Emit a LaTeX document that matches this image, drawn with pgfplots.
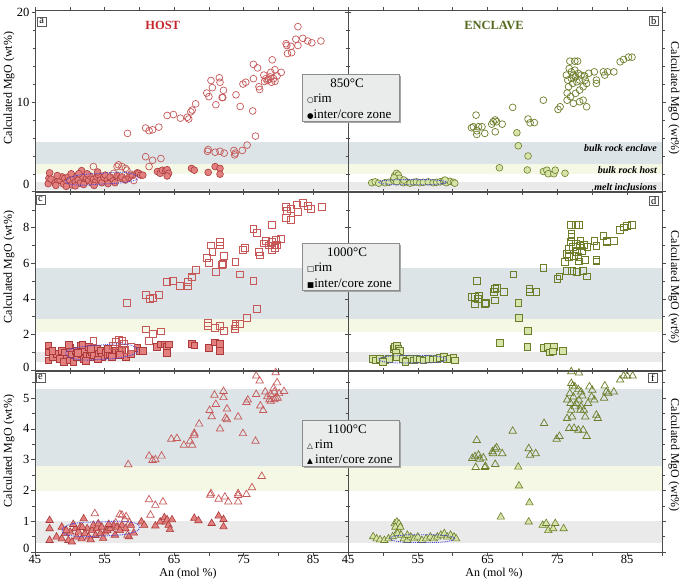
\documentclass[border=0pt]{standalone}
\usepackage{fontspec}
\setmainfont{Liberation Serif}
\newfontfamily\symfont{DejaVu Sans}
\usepackage{pgfplots}
\pgfplotsset{compat=1.18}

\definecolor{hostrim}{RGB}{198,88,88}
\definecolor{hostfill}{RGB}{226,128,128}
\definecolor{hostedge}{RGB}{172,58,58}
\definecolor{encrim}{RGB}{108,126,42}
\definecolor{encfill}{RGB}{214,228,168}
\definecolor{encedge}{RGB}{108,126,45}
\definecolor{bandblue}{RGB}{220,228,231}
\definecolor{bandyel}{RGB}{244,248,228}
\definecolor{bandgray}{RGB}{234,234,234}
\definecolor{legfill}{RGB}{234,235,235}
\definecolor{hosttxt}{RGB}{195,38,45}
\definecolor{enctxt}{RGB}{85,105,30}
\definecolor{ellcol}{RGB}{70,70,225}

\newcommand{\tickfont}{\fontsize{12.5}{14}\selectfont}
\newcommand{\labfont}{\fontsize{12}{14}\selectfont}
\newcommand{\legfont}{\fontsize{13}{15}\selectfont}

\tikzset{ell/.style={draw=ellcol, densely dotted, line width=0.9pt}}
\pgfplotsset{
  panel/.style={
    scale only axis, xmin=45, xmax=90,
    axis on top, clip mode=individual,
    tick align=outside, major tick length=3.5pt, minor tick length=2.5pt,
    xtick={45,50,...,90},
    xtick pos=both, ytick pos=both,
    axis line style={draw=black!70, line width=0.6pt},
    tick style={black!70, line width=0.5pt},
    ticklabel style={font=\tickfont, text=black},
    yticklabel style={inner sep=2pt},
    xticklabel style={inner sep=0.5pt, yshift=1pt},
  },
  hfill/.style={only marks, forget plot, mark=#1, mark size=3.4pt, mark options={fill=hostfill, draw=hostedge, line width=0.6pt}},
  hrim/.style={only marks, forget plot, mark=#1, mark size=3.4pt, mark options={draw=hostrim, line width=0.7pt}},
  efill/.style={only marks, forget plot, mark=#1, mark size=3.4pt, mark options={fill=encfill, draw=encedge, line width=0.6pt}},
  erim/.style={only marks, forget plot, mark=#1, mark size=3.4pt, mark options={draw=encrim, line width=0.7pt}},
  tri/.style={mark size=4.3pt},
  band/.style={draw=none, fill=#1, forget plot},
}

\begin{document}
\begin{tikzpicture}

%% ---------------- panel a (HOST 850) ----------------
\begin{axis}[panel, at={(35pt,-10.5pt)}, anchor=north west, width=313pt, height=181.2pt,
  ymin=0, ymax=20.2, ytick={0,10,20}, yticklabels={\raisebox{14pt}{0},10,20},
  minor ytick={2,4,6,8,12,14,16,18}, xticklabels={}]
\addplot[band=bandgray] coordinates {(45,0.2) (90,0.2) (90,1.05) (45,1.05)};
\addplot[band=bandyel] coordinates {(45,2.0) (90,2.0) (90,3.1) (45,3.1)};
\addplot[band=bandblue] coordinates {(45,3.1) (90,3.1) (90,5.55) (45,5.55)};
\addplot[hfill=*] coordinates {
(46.9,0.9)(47.0,1.5)(47.1,2.1)(47.3,1.4)(47.9,1.0)(48.3,1.2)(48.6,1.3)(48.9,1.65)(49.1,0.85)(49.3,1.5)
(49.6,1.1)(49.8,1.65)(50.0,1.3)(50.3,0.75)(50.5,1.5)(50.8,1.1)(51.0,1.75)(51.2,1.3)(51.5,0.95)(51.7,2.35)
(51.9,1.6)(52.2,1.1)(52.4,1.5)(52.7,1.3)(52.9,1.75)(53.2,0.95)(53.4,1.4)(53.7,1.1)(53.9,1.65)(54.1,1.9)
(54.4,1.3)(54.6,1.0)(54.9,1.6)(55.1,1.85)(55.4,1.3)(55.8,1.65)(56.2,1.2)(56.8,1.8)(57.3,1.5)(57.5,1.65)
(58.0,1.3)(58.5,1.6)(59.0,1.8)(59.7,2.1)(59.9,2.05)(60.2,1.85)(60.5,1.85)(62.6,2.25)(63.0,2.05)(63.3,2.4)
(63.8,2.35)(64.0,2.45)(64.2,2.05)(64.0,1.75)(67.5,2.6)(67.9,2.4)(69.9,2.15)(70.9,2.8)(71.6,2.6)(71.6,1.95)
(48.0,0.7)(49.5,0.6)(50.8,0.65)(52.0,0.8)(53.5,0.7)(55.5,0.9)(56.5,1.0)(51.3,2.0)(52.5,2.0)(54.0,2.2)
(50.2,2.0)(48.2,1.8)};
\addplot[hrim=o] coordinates {
(53.4,2.8)(56.8,2.8)(57.0,3.0)(57.5,2.8)(58.0,2.6)(58.2,2.4)(59.2,1.25)(56.3,2.05)(58.0,1.4)(58.8,1.95)
(58.3,6.5)(60.9,7.1)(61.4,6.8)(61.9,6.9)(62.8,7.2)(64.0,8.5)(64.9,8.6)(65.9,8.2)(66.9,8.3)(67.1,8.1)
(67.4,8.9)(67.6,9.1)(68.1,9.8)(69.7,11.0)(70.0,10.6)(70.3,12.4)(70.5,11.6)(71.0,9.7)(71.5,12.7)(71.6,12.2)
(71.9,10.5)(72.0,10.5)(72.1,11.3)(73.9,10.8)(74.5,9.5)(74.9,12.0)(75.3,12.2)(76.4,14.2)(76.4,12.6)(76.3,9.0)
(77.0,13.8)(77.2,11.7)(77.3,11.4)(77.9,13.0)(78.2,12.6)(78.4,12.4)(78.6,12.5)(79.1,14.7)(78.9,13.3)(79.3,12.6)
(79.5,12.3)(79.5,13.6)(79.0,12.2)(79.8,12.9)(80.4,13.3)(78.8,12.8)(78.0,12.3)
(81.1,16.5)(81.2,16.3)(81.8,16.2)(81.3,15.4)(81.9,15.5)(82.5,17.0)(82.8,18.4)(82.8,16.3)(83.5,17.1)(84.2,16.8)
(84.8,16.6)(86.1,16.8)
(76.7,6.2)(75.5,5.2)(74.8,4.6)(73.6,4.6)(73.8,4.3)(73.7,4.1)(72.2,4.3)(71.6,4.5)(70.9,4.4)(69.8,4.5)
(69.9,4.7)(63.1,3.7)(61.9,3.5)(60.9,3.9)(61.4,2.8)};
\draw[ell] plot[smooth cycle, tension=0.8] coordinates {(49.4,1.15)(51,1.8)(54.5,2.05)(58,2.15)(59.8,1.55)(58,1.05)(54.5,0.85)(51,0.75)};
\end{axis}

%% ---------------- panel b (ENCLAVE 850) ----------------
\begin{axis}[panel, at={(348pt,-10.5pt)}, anchor=north west, width=314pt, height=181.2pt,
  ymin=0, ymax=20.2, ytick={0,10,20}, yticklabels={}, xticklabels={},
  minor ytick={2,4,6,8,12,14,16,18}]
\addplot[band=bandgray] coordinates {(45,0.2) (90,0.2) (90,1.05) (45,1.05)};
\addplot[band=bandyel] coordinates {(45,2.0) (90,2.0) (90,3.1) (45,3.1)};
\addplot[band=bandblue] coordinates {(45,3.1) (90,3.1) (90,5.55) (45,5.55)};
\addplot[efill=*] coordinates {
(48.4,1.0)(48.9,1.1)(49.4,0.95)(50.3,1.0)(50.9,1.05)(51.5,1.3)(51.7,1.8)(51.95,2.05)(52.2,1.85)(52.4,1.5)
(51.6,1.55)(52.0,1.1)(52.9,1.0)(53.4,1.1)(53.9,0.95)(54.4,1.05)(54.8,1.1)(55.3,1.0)(55.8,1.05)(56.5,1.1)
(57.2,1.0)(57.7,1.05)(58.2,1.1)(58.7,1.2)(59.1,1.0)(59.6,1.15)(60.1,1.05)(60.3,0.95)(53.0,1.3)(58.9,1.3)
(66.7,2.67)(69.2,6.57)(69.4,5.12)(70.8,3.98)(70.7,2.42)(73.0,2.25)(73.5,2.4)(73.7,2.0)(74.5,2.0)(74.7,2.4)
(76.1,2.05)};
\addplot[erim=o] coordinates {
(63.35,8.54)(62.7,7.13)(62.97,7.24)(63.45,6.79)(63.7,7.24)(64.2,7.24)(63.45,6.38)(64.6,6.5)(65.6,7.53)(65.8,7.8)
(66.1,8.0)(66.3,7.8)(66.1,6.68)(67.1,7.53)(68.6,9.4)(70.8,8.1)(71.1,7.68)(71.7,7.7)(73.0,10.2)(75.1,9.17)
(75.4,9.47)(76.8,14.55)(77.5,14.55)(77.9,14.55)
(76.3,13.0)(76.5,12.44)(76.6,11.7)(76.7,13.74)(77.0,13.36)(77.0,12.63)(77.2,12.07)(77.3,13.0)(77.5,13.55)(77.6,12.81)
(77.8,12.25)(78.0,13.18)(78.2,12.44)(78.2,11.33)(78.4,13.0)(76.4,11.0)(76.9,10.59)(77.6,10.96)(78.7,11.7)(79.0,12.44)
(79.2,12.07)(76.4,10.2)(77.3,9.85)(78.2,10.03)(78.7,10.2)(79.2,9.47)(80.3,13.36)(80.6,12.44)(80.6,12.07)(81.6,13.36)
(81.8,13.0)(82.2,13.36)(83.1,13.36)(84.0,14.48)(84.5,14.74)(85.2,15.0)(85.7,15.0)(79.5,13.2)(78.9,12.9)};
\draw[ell] plot[smooth cycle, tension=0.8] coordinates {(49.4,1.05)(51,1.3)(54.3,1.35)(57.5,1.3)(59.1,1.05)(57.5,0.82)(54.3,0.78)(51,0.82)};
\end{axis}

%% ---------------- panel c (HOST 1000) ----------------
\begin{axis}[panel, at={(35pt,-192pt)}, anchor=north west, width=313pt, height=178pt,
  ymin=0, ymax=10, ytick={0,2,4,6,8}, yticklabels={\raisebox{5.5pt}{0},2,4,6,8},
  minor ytick={1,3,5,7,9}, xticklabels={}]
\addplot[band=bandgray] coordinates {(45,0.45) (90,0.45) (90,1.0) (45,1.0)};
\addplot[band=bandyel] coordinates {(45,2.15) (90,2.15) (90,2.87) (45,2.87)};
\addplot[band=bandblue] coordinates {(45,2.87) (90,2.87) (90,5.72) (45,5.72)};
\addplot[hfill=square*] coordinates {
(46.9,1.39)(46.9,1.0)(46.9,0.55)(47.6,0.73)(48.1,0.92)(48.6,0.64)(48.9,1.1)(49.1,0.45)(49.6,0.83)(49.8,1.2)
(50.05,0.55)(50.3,0.92)(50.5,0.45)(50.8,1.1)(51.0,0.73)(51.5,1.39)(51.7,0.92)(52.0,0.64)(52.2,1.1)(52.5,0.83)
(52.7,1.29)(52.9,0.73)(53.2,1.0)(53.4,0.83)(53.9,1.2)(54.1,0.92)(54.4,1.1)(54.6,0.73)(55.1,1.0)(55.4,0.83)
(55.8,0.92)(56.6,1.1)(57.0,1.0)(57.5,1.15)(58.0,0.73)(58.8,0.92)(59.7,1.25)(60.1,1.1)(60.5,1.07)(62.5,1.29)
(63.1,1.44)(63.6,1.44)(64.0,1.29)(64.2,1.44)(63.9,0.96)(67.5,1.45)(67.9,1.39)(70.0,1.26)(70.9,1.56)(71.6,1.45)
(71.6,1.1)(47.5,1.1)(49.3,1.0)(50.0,1.25)(51.2,0.95)(52.3,0.5)(53.0,1.2)(54.0,0.6)(55.5,1.2)(56.0,0.75)
(57.2,0.85)(51.8,1.4)(49.9,1.4)};
\addplot[hrim=square] coordinates {
(58.2,3.78)(60.9,4.23)(61.5,4.0)(61.9,4.05)(62.8,4.23)(64.0,4.96)(64.8,5.0)(65.8,4.73)(67.0,4.7)(67.0,4.95)
(67.5,5.2)(67.6,5.25)(68.1,5.63)(69.7,6.28)(70.0,6.02)(70.3,7.0)(70.5,6.64)(71.0,5.5)(71.6,7.2)(71.6,7.0)
(71.9,5.93)(72.0,5.95)(72.1,6.41)(73.8,6.09)(74.5,5.37)(74.9,6.75)(75.2,6.86)(76.4,7.93)(76.4,5.0)(76.9,7.69)
(77.2,6.62)(77.3,6.44)(77.9,7.12)(78.2,7.25)(79.1,8.17)(79.0,7.2)(79.4,7.0)(79.5,6.85)(79.6,7.3)(79.8,7.05)
(80.4,7.35)(79.0,6.75)(78.6,7.0)
(81.1,9.18)(81.2,8.95)(81.8,9.05)(81.1,8.55)(81.8,8.43)(82.6,9.3)(82.8,8.87)(83.5,9.37)(84.2,9.23)(84.7,9.05)
(86.2,9.18)
(76.9,3.44)(75.5,2.94)(74.5,2.6)(73.8,2.6)(73.8,2.5)(73.7,2.3)(72.2,2.22)(71.6,2.5)(70.9,2.38)(69.8,2.47)
(69.9,2.64)(63.1,2.17)(61.9,2.04)(60.9,2.28)(61.4,1.63)
(53.4,1.63)(57.0,1.72)(56.6,1.6)(57.5,1.62)(57.8,1.48)(56.2,1.35)(58.0,1.15)(58.8,1.3)};
\draw[ell] plot[smooth cycle, tension=0.8] coordinates {(49.4,0.95)(51,1.25)(54.5,1.4)(58,1.45)(59.8,1.1)(58,0.75)(54.5,0.6)(51,0.6)};
\end{axis}

%% ---------------- panel d (ENCLAVE 1000) ----------------
\begin{axis}[panel, at={(348pt,-192pt)}, anchor=north west, width=314pt, height=178pt,
  ymin=0, ymax=10, ytick={0,2,4,6,8}, yticklabels={}, xticklabels={},
  minor ytick={1,3,5,7,9}]
\addplot[band=bandgray] coordinates {(45,0.45) (90,0.45) (90,1.0) (45,1.0)};
\addplot[band=bandyel] coordinates {(45,2.15) (90,2.15) (90,2.87) (45,2.87)};
\addplot[band=bandblue] coordinates {(45,2.87) (90,2.87) (90,5.72) (45,5.72)};
\addplot[efill=square*] coordinates {
(48.6,0.64)(49.0,0.55)(49.5,0.64)(50.3,0.55)(50.9,0.64)(51.5,1.2)(51.7,1.3)(52.0,1.35)(52.2,1.2)(52.4,1.1)
(51.8,0.95)(52.0,0.75)(52.9,0.64)(53.4,0.55)(53.9,0.64)(54.4,0.55)(54.8,0.64)(55.3,0.6)(55.8,0.55)(56.5,0.64)
(57.2,0.6)(57.7,0.64)(58.2,0.7)(58.7,0.73)(59.1,0.6)(59.6,0.64)(60.1,0.7)(60.3,0.55)(50.0,0.45)(53.2,0.45)
(69.4,3.78)(69.5,2.94)(70.8,2.19)(66.8,1.54)(70.7,1.32)(73.0,1.25)(73.6,1.32)(73.9,1.0)(74.5,1.32)(74.4,1.05)
(75.8,1.1)};
\addplot[erim=square] coordinates {
(63.5,4.99)(62.7,4.09)(63.2,4.13)(63.7,4.19)(63.6,4.0)(63.2,3.69)(64.6,3.72)(64.7,3.76)(65.9,4.37)(66.1,4.56)
(66.3,4.62)(67.3,4.37)(66.1,3.91)(68.7,5.37)(71.0,4.56)(71.1,4.37)(72.0,4.37)(73.0,5.74)(75.0,5.12)(75.3,5.26)
(76.9,8.15)(77.7,8.15)(78.1,8.15)
(76.4,5.59)(77.1,5.59)(77.8,5.5)(78.7,5.59)(79.2,5.26)(76.1,6.06)(76.4,6.53)(76.6,6.81)(76.9,7.18)(77.0,7.46)
(77.2,6.9)(77.4,6.43)(77.6,7.09)(77.8,6.62)(78.0,6.34)(78.2,6.99)(78.3,7.27)(78.5,6.71)(78.1,6.1)(79.0,6.19)
(79.3,6.9)(77.0,7.65)(76.7,6.34)(78.8,7.05)
(80.3,7.27)(80.6,6.99)(80.6,6.19)(80.6,6.1)(81.6,7.55)(82.1,7.27)(83.1,7.27)(82.1,7.18)(84.0,7.89)(84.5,8.02)
(85.0,8.11)(85.7,8.15)};
\draw[ell] plot[smooth cycle, tension=0.8] coordinates {(49.4,0.6)(51,0.78)(54.3,0.8)(57.5,0.78)(59.1,0.6)(57.5,0.42)(54.3,0.4)(51,0.42)};
\end{axis}

%% ---------------- panel e (HOST 1100) ----------------
\begin{axis}[panel, at={(35pt,-371pt)}, anchor=north west, width=313pt, height=181pt,
  ymin=0, ymax=5.88, ytick={0,1,2,3,4,5}, yticklabels={\raisebox{7.5pt}{0},1,2,3,4,5},
  minor ytick={0.5,1.5,2.5,3.5,4.5,5.5}, xticklabels={45,,55,,65,,75,,85,}]
\addplot[band=bandgray] coordinates {(45,0.29) (90,0.29) (90,1.0) (45,1.0)};
\addplot[band=bandyel] coordinates {(45,1.99) (90,1.99) (90,2.79) (45,2.79)};
\addplot[band=bandblue] coordinates {(45,2.79) (90,2.79) (90,5.3) (45,5.3)};
\addplot[hfill=triangle*, tri] coordinates {
(47.1,1.03)(47.1,0.76)(47.1,0.38)(48.1,0.49)(48.85,0.81)(48.85,0.43)(49.3,0.6)(49.8,0.38)(50.05,0.65)(50.3,0.33)
(50.8,0.76)(51.0,0.49)(51.25,0.65)(51.5,0.81)(51.7,0.43)(52.0,1.08)(52.2,0.6)(52.5,0.76)(52.7,0.49)(53.2,0.7)
(53.4,0.87)(53.7,0.54)(53.9,0.76)(54.1,0.92)(54.4,0.6)(54.6,0.81)(55.1,0.65)(55.4,0.7)(55.8,0.76)(56.3,0.87)
(56.8,0.81)(57.5,0.87)(58.0,0.76)(58.8,0.87)(59.2,0.62)(58.5,0.5)(60.3,0.98)(60.7,0.87)(62.3,0.85)(63.0,0.98)
(63.6,1.12)(63.8,0.98)(64.0,1.05)(64.2,0.87)(64.4,0.73)(64.7,1.05)(67.9,1.1)(68.5,1.02)(70.4,0.93)(71.4,1.17)
(72.1,1.06)(72.1,0.82)(49.5,0.7)(50.5,0.9)(51.8,0.8)(53.0,0.4)(54.8,0.45)(55.6,0.9)(56.5,0.55)(57.2,0.7)};
\addplot[hrim=triangle, tri] coordinates {
(58.4,2.84)(61.4,3.12)(61.9,2.98)(62.3,3.0)(63.2,3.12)(64.6,3.67)(65.4,3.69)(66.4,3.47)(67.3,3.6)(67.6,3.47)
(67.9,3.8)(67.9,3.86)(68.6,4.16)(70.1,4.6)(70.4,4.4)(70.8,5.1)(71.0,4.8)(71.6,4.0)(72.1,5.22)(72.1,5.02)
(72.4,4.35)(72.6,4.3)(72.6,4.65)(74.2,4.39)(74.9,3.85)(75.4,4.86)(75.6,4.94)(76.7,3.6)(76.8,5.72)(77.3,5.56)
(76.8,5.12)(77.4,4.75)(77.8,4.6)(78.1,5.2)(78.4,5.05)(78.9,5.12)(79.4,5.2)(79.6,5.0)(78.7,4.95)(78.9,4.9)
(79.4,4.95)(79.9,5.0)(80.1,5.15)(80.8,5.22)(79.6,5.83)(79.8,5.5)(79.3,5.32)
(77.6,2.46)(76.2,2.09)(75.4,1.87)(74.2,1.9)(74.2,1.84)(74.2,1.63)(72.8,1.63)(72.3,1.79)(71.4,1.72)(70.2,1.85)
(70.3,1.9)(63.4,1.63)(62.3,1.52)(61.4,1.7)(61.6,1.2)
(53.6,1.25)(57.5,1.2)(58.1,1.15)(57.2,1.22)(56.6,0.95)(58.6,0.95)(58.3,0.55)(57.9,1.05)};
\draw[ell] plot[smooth cycle, tension=0.8] coordinates {(48.9,0.7)(50.5,0.92)(54.5,0.98)(58.5,0.98)(60.0,0.8)(58.5,0.6)(54.5,0.52)(50.5,0.52)};
\end{axis}

%% ---------------- panel f (ENCLAVE 1100) ----------------
\begin{axis}[panel, at={(348pt,-371pt)}, anchor=north west, width=314pt, height=181pt,
  ymin=0, ymax=5.88, ytick={0,1,2,3,4,5}, yticklabels={},
  minor ytick={0.5,1.5,2.5,3.5,4.5,5.5}, xticklabels={45,,55,,65,,75,,85,}]
\addplot[band=bandgray] coordinates {(45,0.29) (90,0.29) (90,1.0) (45,1.0)};
\addplot[band=bandyel] coordinates {(45,1.99) (90,1.99) (90,2.79) (45,2.79)};
\addplot[band=bandblue] coordinates {(45,2.79) (90,2.79) (90,5.3) (45,5.3)};
\addplot[efill=triangle*, tri] coordinates {
(48.6,0.5)(49.1,0.43)(49.6,0.4)(50.2,0.38)(50.8,0.43)(51.4,0.5)(51.7,0.92)(52.0,0.98)(52.3,0.92)(51.8,0.81)
(52.2,0.7)(52.5,0.81)(52.1,0.6)(52.6,0.55)(53.0,0.43)(53.5,0.38)(54.0,0.49)(54.5,0.43)(55.0,0.49)(55.6,0.38)
(56.2,0.43)(56.8,0.49)(57.3,0.43)(57.8,0.49)(58.3,0.55)(58.8,0.6)(59.2,0.49)(59.7,0.55)(60.2,0.49)(60.5,0.43)
(53.5,0.55)
(69.4,2.76)(69.5,2.15)(71.0,1.6)(66.9,1.14)(70.9,0.98)(72.9,0.87)(73.4,0.93)(73.7,0.7)(74.4,0.76)(74.7,0.93)
(75.9,0.76)};
\addplot[erim=triangle, tri] coordinates {
(63.45,3.63)(62.8,3.04)(63.2,3.1)(63.7,3.15)(63.9,3.02)(64.4,3.06)(63.3,2.75)(64.6,2.75)(64.7,2.78)(65.8,3.2)
(66.1,3.34)(66.3,3.39)(67.1,3.2)(66.1,2.85)(65.7,3.26)(68.6,3.93)(70.9,3.36)(71.1,3.15)(71.9,3.2)(73.1,4.18)
(74.9,3.67)(75.3,3.76)(77.0,5.86)(78.1,5.82)
(77.0,5.48)(77.2,5.4)(77.5,5.37)(78.0,5.28)(78.4,5.2)(76.4,4.94)(76.8,5.15)(77.3,5.04)(77.7,4.83)(78.1,4.94)
(78.4,4.72)(78.6,5.07)(77.0,4.61)(77.5,4.72)(76.9,4.83)(78.3,4.61)(76.4,4.34)(77.1,4.39)(76.7,4.02)(77.4,4.02)
(78.0,3.96)(78.7,3.96)(79.2,3.76)(79.0,4.39)(79.6,5.37)(80.0,5.26)(79.9,5.04)(80.3,4.94)(79.4,4.83)(78.8,4.61)
(80.6,4.45)(80.8,4.34)(81.8,5.4)(82.0,5.2)(82.3,5.15)(83.1,5.2)(81.7,5.0)
(84.0,5.59)(84.5,5.72)(85.0,5.72)(85.8,5.72)};
\draw[ell] plot[smooth cycle, tension=0.8] coordinates {(51,0.44)(52.5,0.54)(55.6,0.56)(58.8,0.54)(60.3,0.44)(58.8,0.33)(55.6,0.31)(52.5,0.33)};
\end{axis}

%% ---------------- annotations ----------------
\node[font=\fontsize{12.5}{14}\selectfont\bfseries, text=hosttxt] at (162.7pt,-25pt) {HOST};
\node[font=\fontsize{12.5}{14}\selectfont\bfseries, text=enctxt] at (494pt,-25pt) {ENCLAVE};

\foreach \yy/\tt in {-148.3/bulk rock enclave, -170.5/bulk rock host, -187.3/melt inclusions}
  \node[anchor=east, inner sep=0pt, font=\fontsize{10}{12}\selectfont\bfseries\itshape] at (657pt,\yy pt) {\tt};

\foreach \xx/\yy/\ll in {41.7/-21.3/a, 653.8/-20.8/b, 40.5/-199.2/c, 653.8/-200.5/d, 40.5/-377.5/e, 652.8/-378/f}
  \node[draw=black!65, fill=white, line width=0.4pt, inner sep=0pt, minimum width=9.5pt, minimum height=9pt,
        font=\fontsize{10.5}{10.5}\selectfont] at (\xx pt,\yy pt) {\ll};

% y labels
\foreach \yy in {-88, -267, -451}
  \node[rotate=90, font=\labfont] at (9pt,\yy pt) {Calculated MgO (wt\%)};
\foreach \yy in {-98, -287, -455}
  \node[rotate=-90, font=\labfont] at (674pt,\yy pt) {Calculated MgO (wt\%)};
% x labels
\node[font=\fontsize{12}{14}\selectfont, inner sep=0pt] at (188pt,-573.2pt) {An (mol \%)};
\node[font=\fontsize{12}{14}\selectfont, inner sep=0pt] at (494pt,-573.2pt) {An (mol \%)};

% legends
\foreach \top/\ttl/\so/\sf/\sp in {74.3/850°C/○/●/{}, 243.3/1000°C/□/■/{}, 420/1100°C/△/▲/{\,}} {
  \fill[black!35] (304.2pt,-\top pt-1.5pt) rectangle (400.8pt,-\top pt-48.2pt);
  \filldraw[fill=legfill, draw=black!45, line width=0.5pt] (302.7pt,-\top pt) rectangle (399.3pt,-\top pt-46.7pt);
  \node[font=\legfont, inner sep=0pt] at (347pt,-\top pt-9pt) {\ttl};
  \node[font=\legfont, inner sep=0pt, anchor=west] at (307pt,-\top pt-24.7pt) {{\symfont\fontsize{7.5}{8}\selectfont\so}\sp rim};
  \node[font=\legfont, inner sep=0pt, anchor=west] at (307pt,-\top pt-40pt) {{\symfont\fontsize{7.5}{8}\selectfont\sf}\sp inter/core zone};
}

\pgfresetboundingbox
\path[use as bounding box] (0pt,0pt) rectangle (685pt,-579pt);
\end{tikzpicture}
\end{document}
